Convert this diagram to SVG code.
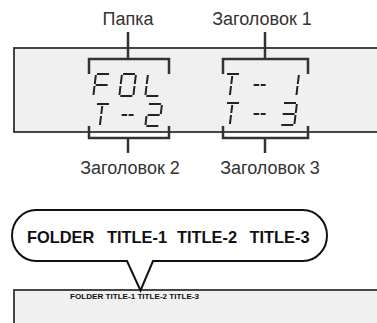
<svg xmlns="http://www.w3.org/2000/svg" xmlns:xlink="http://www.w3.org/1999/xlink" width="377" height="323" viewBox="0 0 377 323">
<style>
.lbl{font-family:"Liberation Sans",Arial,sans-serif;font-size:18px;fill:#333;text-anchor:middle}
.big{font-family:"Liberation Sans",Arial,sans-serif;font-size:16.4px;font-weight:bold;fill:#111}
.small{font-family:"Liberation Sans",Arial,sans-serif;font-size:8px;font-weight:bold;fill:#111}
.panel{fill:#f0f0f0;stroke:#333;stroke-width:1.8}
.conn{fill:none;stroke:#333;stroke-width:2.5}
.seg{fill:none;stroke:#222;stroke-width:2}
</style>
<defs>
<path id="sA" class="seg" d="M1,0 H13"/>
<path id="sB" class="seg" d="M14,1 V10"/>
<path id="sC" class="seg" d="M14,12 V21"/>
<path id="sD" class="seg" d="M1,22 H13"/>
<path id="sE" class="seg" d="M0,12 V21"/>
<path id="sF" class="seg" d="M0,1 V10"/>
<path id="sG" class="seg" d="M1,11 H13"/>
<path id="sGs" class="seg" d="M1,11 H6.5 M8,11 H13"/>
<path id="sT" class="seg" d="M6.5,2 V10 M6.5,12 V21"/>
</defs>
<g id="top-panel">
<rect class="panel" x="14" y="48" width="400" height="84"/>
</g>
<g id="lcd-group1">
<g transform="translate(96,74) skewX(-7)"><use href="#sA"/><use href="#sF"/><use href="#sG"/><use href="#sE"/></g>
<g transform="translate(122,74) skewX(-7)"><use href="#sA"/><use href="#sB"/><use href="#sC"/><use href="#sD"/><use href="#sE"/><use href="#sF"/></g>
<g transform="translate(148,74) skewX(-7)"><use href="#sF"/><use href="#sE"/><use href="#sD"/></g>
<g transform="translate(96,104) skewX(-7)"><use href="#sA"/><use href="#sT"/></g>
<g transform="translate(122,104) skewX(-7)"><use href="#sGs"/></g>
<g transform="translate(148,104) skewX(-7)"><use href="#sA"/><use href="#sB"/><use href="#sG"/><use href="#sE"/><use href="#sD"/></g>
</g>
<g id="lcd-group2">
<g transform="translate(226,74) skewX(-7)"><use href="#sA"/><use href="#sT"/></g>
<g transform="translate(254,74) skewX(-7)"><use href="#sGs"/></g>
<g transform="translate(285,74) skewX(-7)"><use href="#sB"/><use href="#sC"/></g>
<g transform="translate(226,103) skewX(-7)"><use href="#sA"/><use href="#sT"/></g>
<g transform="translate(254,103) skewX(-7)"><use href="#sGs"/></g>
<g transform="translate(283,103) skewX(-7)"><use href="#sA"/><use href="#sB"/><use href="#sG"/><use href="#sC"/><use href="#sD"/></g>
</g>
<g id="connectors">
<path class="conn" d="M89,74 V59 H169 V74 M128,32 V59"/>
<path class="conn" d="M223,74 V59 H308 V74 M265,32 V59"/>
<path class="conn" d="M89,126 V138 H169 V126 M128,138 V153"/>
<path class="conn" d="M223,126 V138 H308 V126 M265,138 V153"/>
</g>
<g id="label-folder"><text class="lbl" x="128" y="25">Папка</text></g>
<g id="label-title1"><text class="lbl" x="262" y="25">Заголовок 1</text></g>
<g id="label-title2"><text class="lbl" x="130" y="174">Заголовок 2</text></g>
<g id="label-title3"><text class="lbl" x="270" y="174">Заголовок 3</text></g>
<g id="bottom-panel">
<rect class="panel" x="14" y="290" width="400" height="60"/>
<text class="small" x="70" y="299" textLength="129" lengthAdjust="spacingAndGlyphs">FOLDER TITLE-1 TITLE-2 TITLE-3</text>
</g>
<g id="bubble">
<path d="M36,210 H303 A24,25.5 0 0 1 303,261 H153 L140.5,290.5 L127,261 H36 A24,25.5 0 0 1 36,210 Z" fill="#fff" stroke="#111" stroke-width="2"/>
<text class="big" y="242.5"><tspan x="27">FOLDER</tspan><tspan x="107">TITLE-1</tspan><tspan x="177">TITLE-2</tspan><tspan x="249.5">TITLE-3</tspan></text>
</g>
</svg>
